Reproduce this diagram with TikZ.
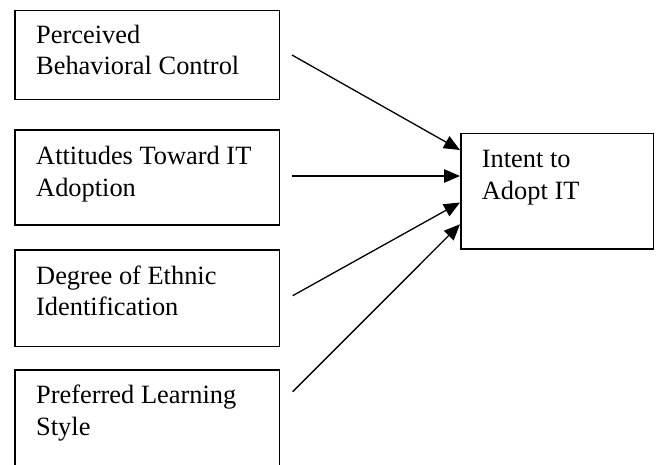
\documentclass[tikz,border=0pt]{standalone}
\usepackage{fontspec}
\setmainfont{Liberation Serif}
\usetikzlibrary{arrows.meta}
\begin{document}
\begin{tikzpicture}[x=1pt,y=-1pt,
 box/.style={draw, line width=1.7pt, inner sep=0pt, anchor=north west},
 lbl/.style={anchor=base west, align=left, inner sep=0pt, font=\fontsize{26.4}{31.5}\selectfont},
 arr/.style={line width=1.3pt, -{Triangle[length=16pt,width=13.5pt]}}]
\useasboundingbox (0,0) rectangle (657,464);
\clip (0,0) rectangle (657,464);
\node[box, minimum width=264.7pt, minimum height=89.2pt] (b1) at (14,9.5) {};
\node[box, minimum width=264.7pt, minimum height=95pt] (b2) at (14,129) {};
\node[box, minimum width=264.7pt, minimum height=96.4pt] (b3) at (14,249.3) {};
\node[box, minimum width=264.7pt, minimum height=101pt] (b4) at (14,369) {};
\node[box, minimum width=192.7pt, minimum height=115.6pt] (b5) at (460,132.7) {};
% base anchor = baseline of the last line
\node[lbl] (t1) at (36,74.8) {Perceived\\Behavioral Control};
\node[lbl] (t2) at (36,196) {Attitudes Toward IT\\Adoption};
\node[lbl] (t3) at (36,315.5) {Degree of Ethnic\\Identification};
\node[lbl] (t4) at (36,435) {Preferred Learning\\Style};
\node[lbl] (t5) at (481.7,199) {Intent to\\Adopt IT};
\coordinate (s1) at (292,55);
\coordinate (s2) at (292,176);
\coordinate (s3) at (292.7,295.7);
\coordinate (s4) at (292.7,391.7);
\path (b5.north west) ++(0,17.3) coordinate (e1);
\path (b5.north west) ++(0,43.3) coordinate (e2);
\path (b5.north west) ++(0,69.8) coordinate (e3);
\path (b5.north west) ++(0,91.6) coordinate (e4);
\draw[arr] (s1) -- (e1);
\draw[arr] (s2) -- (e2);
\draw[arr] (s3) -- (e3);
\draw[arr] (s4) -- (e4);
\end{tikzpicture}
\end{document}
